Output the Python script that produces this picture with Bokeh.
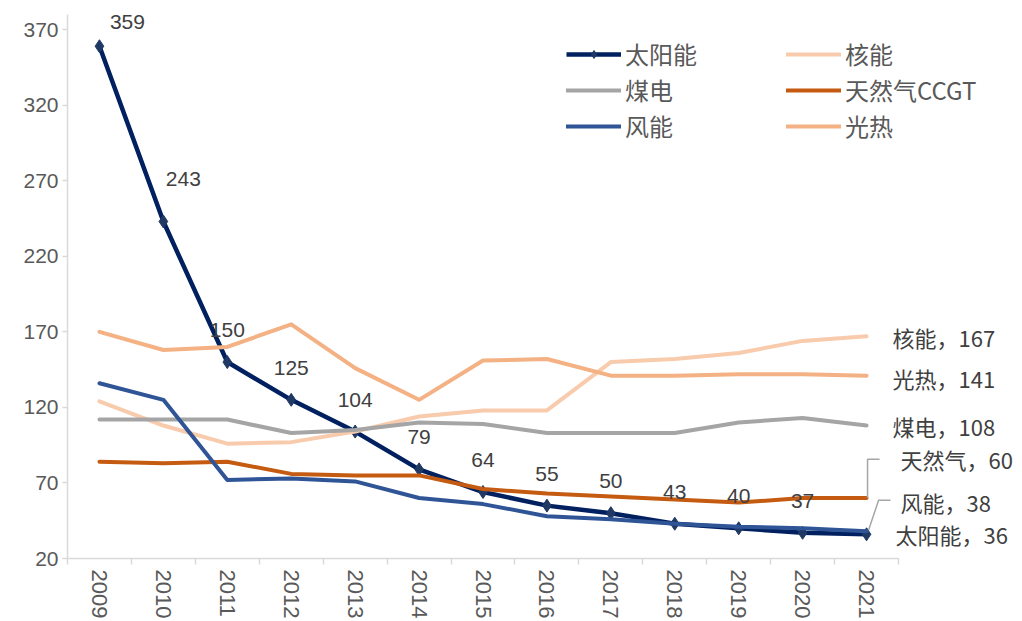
from bokeh.plotting import figure
from bokeh.models import (Range1d, FixedTicker, LinearAxis, Legend, LegendItem,
                          ColumnDataSource, LabelSet)
from bokeh.core.properties import value
from bokeh.embed import file_html
from bokeh.resources import INLINE

# ---------------- data ----------------
years = ["2009", "2010", "2011", "2012", "2013", "2014", "2015",
         "2016", "2017", "2018", "2019", "2020", "2021"]
solar = [359, 243, 150, 125, 104, 79, 64, 55, 50, 43, 40, 37, 36]
nuclear = [124, 108, 96, 97, 104, 114, 118, 118, 150, 152, 156, 164, 167]
coal = [112, 112, 112, 103, 105, 110, 109, 103, 103, 103, 110, 113, 108]
gas = [84, 83, 84, 76, 75, 75, 66, 63, 61, 59, 57, 60, 60]
wind = [136, 125, 72, 73, 71, 60, 56, 48, 46, 43, 41, 40, 38]
csp = [170, 158, 160, 175, 146, 125, 151, 152, 141, 141, 142, 142, 141]
y_ticks = [20, 70, 120, 170, 220, 270, 320, 370]
y_min, y_max = 20, 380

names = {"solar": "太阳能", "nuclear": "核能", "coal": "煤电",
         "gas": "天然气CCGT", "wind": "风能", "csp": "光热"}
end_names = {"solar": "太阳能", "nuclear": "核能", "coal": "煤电",
             "gas": "天然气", "wind": "风能", "csp": "光热"}

# ---------------- styling ----------------
colors = {"solar": "#002060", "nuclear": "#F8CBAD", "coal": "#A5A5A5",
          "gas": "#C55A11", "wind": "#2F5597", "csp": "#F4B183"}
NUM_FONT = "Liberation Sans"
CJK_FONT = "Noto Sans CJK SC"
TXT = "#404040"
AX = "#D9D9D9"

W, H = 1022, 621
BL, BR, BT, BB = 67, 0, 14, 62
cat_px = 831 / len(years)               # width of one year slot in px
frame_w = W - BL - BR
frame_h = H - BT - BB
ux = cat_px
uy = frame_h / (y_max - y_min)
x_end = -0.5 + frame_w / cat_px

idx = list(range(len(years)))
src = ColumnDataSource(dict(i=idx, solar=solar, nuclear=nuclear, coal=coal,
                            gas=gas, wind=wind, csp=csp))

p = figure(width=W, height=H, x_range=Range1d(-0.5, x_end),
           y_range=Range1d(y_min, y_max), output_backend="svg",
           toolbar_location=None, x_axis_type=None, y_axis_type=None,
           min_border_left=BL, min_border_right=BR, min_border_top=BT,
           min_border_bottom=BB)
p.outline_line_color = None
p.background_fill_color = "white"
p.border_fill_color = "white"

# axes
yax = LinearAxis(ticker=FixedTicker(ticks=y_ticks))
yax.axis_line_color = AX
yax.axis_line_width = 1.5
yax.major_tick_line_color = AX
yax.major_tick_line_width = 1.5
yax.major_tick_in = 0
yax.major_tick_out = 5
yax.minor_tick_line_color = None
yax.major_label_standoff = 4
yax.major_label_text_font = NUM_FONT
yax.major_label_text_font_size = "21px"
yax.major_label_text_color = "#595959"
p.add_layout(yax, "left")

xax = LinearAxis(ticker=FixedTicker(ticks=idx,
                                    minor_ticks=[i - 0.5 for i in range(len(years) + 1)]))
xax.bounds = (-0.5, len(years) - 0.5)
xax.major_label_overrides = {i: y for i, y in zip(idx, years)}
xax.axis_line_color = AX
xax.axis_line_width = 1.5
xax.major_tick_line_color = None
xax.major_tick_in = 0
xax.major_tick_out = 0
xax.minor_tick_line_color = AX
xax.minor_tick_line_width = 1.5
xax.minor_tick_in = 0
xax.minor_tick_out = 6
xax.major_label_standoff = 5
xax.major_label_orientation = -1.5707963
xax.major_label_text_font = NUM_FONT
xax.major_label_text_font_size = "22px"
xax.major_label_text_color = "#595959"
p.add_layout(xax, "below")

# series (Excel order: later ones on top)
r = {}
r["solar"] = p.line("i", "solar", source=src, line_width=4.5,
                    color=colors["solar"], line_join="round")
r["solar_m"] = p.scatter("i", "solar", source=src, marker="diamond", size=13,
                         color="#1F3864")
for k in ["nuclear", "coal", "gas", "wind", "csp"]:
    r[k] = p.line("i", k, source=src, line_width=4, color=colors[k],
                  line_join="round", line_cap="round")

# solar data labels (last one handled by end labels)
dx = [28, 20] + [0] * (len(years) - 3)
dy = [24, 43] + [32] * (len(years) - 3)
lsrc = ColumnDataSource(dict(x=idx[:-1], y=solar[:-1],
                             t=[str(v) for v in solar[:-1]], dx=dx, dy=dy))
p.add_layout(LabelSet(x="x", y="y", text="t", source=lsrc, x_offset="dx",
                      y_offset="dy", text_align="center", text_baseline="middle",
                      text_font=value(NUM_FONT), text_font_size="21px",
                      text_color=TXT))

# end labels
series_vals = {"solar": solar, "nuclear": nuclear, "coal": coal, "gas": gas,
               "wind": wind, "csp": csp}
order = ["nuclear", "csp", "coal", "gas", "wind", "solar"]
edx = {"nuclear": 26, "csp": 26, "coal": 26, "gas": 34, "wind": 34, "solar": 29}
edy = {"nuclear": -1, "csp": -2, "coal": 0, "gas": 39, "wind": 29, "solar": 0}
last = len(years) - 1
esrc = ColumnDataSource(dict(
    x=[last] * len(order),
    y=[series_vals[k][-1] for k in order],
    t=[f"{end_names[k]}，{series_vals[k][-1]}" for k in order],
    dx=[edx[k] for k in order], dy=[edy[k] for k in order]))
p.add_layout(LabelSet(x="x", y="y", text="t", source=esrc, x_offset="dx",
                      y_offset="dy", text_align="left", text_baseline="middle",
                      text_font=value(CJK_FONT), text_font_size="22px",
                      text_color=TXT))

# leader lines
g = gas[-1]
p.line([last + 1 / ux, last + 1 / ux, last + 13 / ux],
       [g, g + 39 / uy, g + 39 / uy], line_color="#A6A6A6", line_width=1.5)
wv = wind[-1]
p.line([last + 2 / ux, last + 12 / ux, last + 24 / ux],
       [wv + 1 / uy, wv + 31 / uy, wv + 31 / uy], line_color="#A6A6A6",
       line_width=1.5)

# legends (two columns)
def make_legend(keys, loc):
    items = []
    for k in keys:
        rs = [r[k]] + ([r["solar_m"]] if k == "solar" else [])
        items.append(LegendItem(label=names[k], renderers=rs))
    lg = Legend(items=items, location=loc, orientation="vertical")
    lg.label_text_font = CJK_FONT
    lg.label_text_font_size = "24px"
    lg.label_text_color = "#595959"
    lg.glyph_width = 55
    lg.glyph_height = 20
    lg.label_height = 20
    lg.label_standoff = 4
    lg.spacing = 1
    lg.padding = 0
    lg.margin = 0
    lg.border_line_color = None
    lg.background_fill_alpha = 0
    return lg

p.add_layout(make_legend(["solar", "coal", "wind"], (499, 415)))
p.add_layout(make_legend(["nuclear", "gas", "csp"], (719, 415)))

open("out.html", "w").write(file_html(p, INLINE))
